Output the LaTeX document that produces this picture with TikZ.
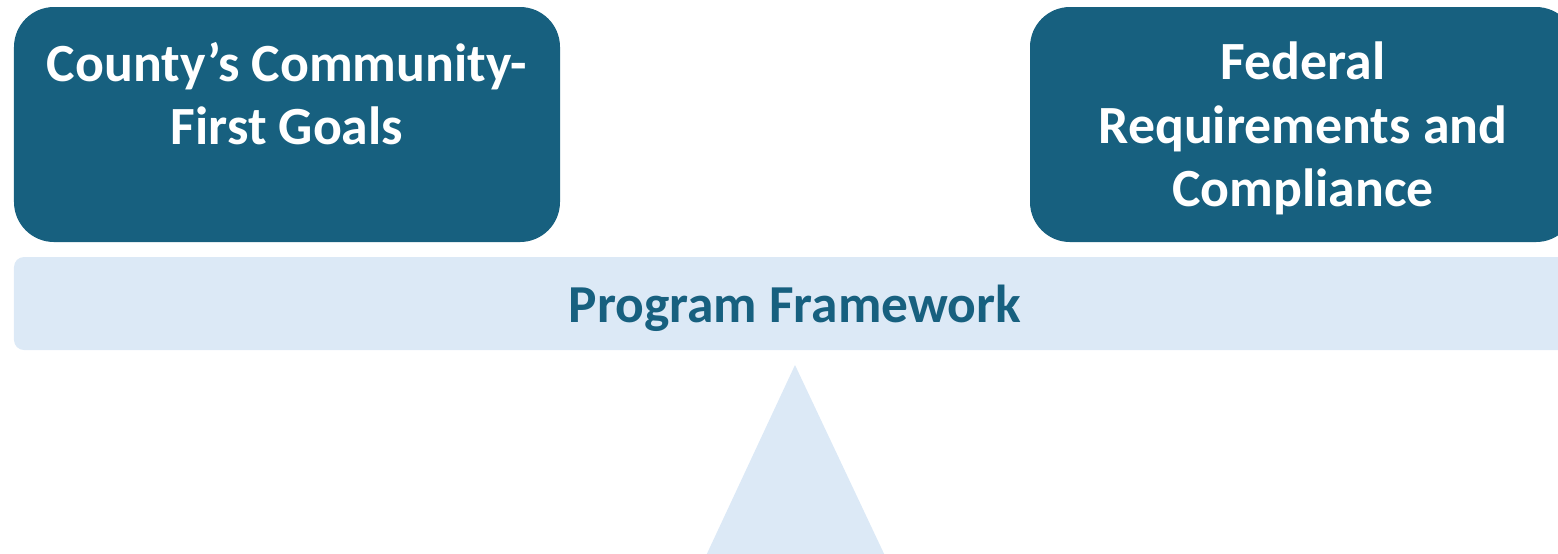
\documentclass[tikz,border=0pt]{standalone}
\usepackage{fontspec}
\setmainfont{Carlito}
\usepackage{xcolor}
\definecolor{goalblue}{HTML}{17607F}
\definecolor{frameblue}{HTML}{DCE9F6}

\begin{document}
\begin{tikzpicture}
    \tikzstyle{goalbox}=[fill=goalblue,rounded corners=0.4cm,minimum width=5.46cm,minimum height=2.35cm,inner sep=0pt]
    \tikzstyle{goaltext}=[text=white,font=\fontsize{15.3}{18}\selectfont\bfseries,align=center,inner sep=0pt,anchor=north]
    \useasboundingbox (0,0) rectangle (15.58,-5.53);
    \node[goalbox] (county) at (2.87,-1.245) {};
    \node[goalbox] (federal) at (13.03,-1.245) {};
    \node[goaltext] (countytext) at ([yshift=-0.35cm]county.north) {County’s Community-\\First Goals};
    \node[goaltext] (federaltext) at ([yshift=-0.35cm]federal.north) {Federal\\Requirements and\\Compliance};
    \fill[frameblue,rounded corners=0.1cm] (0.14,-2.57) rectangle (15.9,-3.50);
    \node[text=goalblue,font=\fontsize{15.2}{18}\selectfont\bfseries] (framework) at (7.95,-3.08) {Program Framework};
    \fill[frameblue] (7.95,-3.65) coordinate (pivot) -- (8.87,-5.6) -- (7.04,-5.6) -- cycle;
\end{tikzpicture}
\end{document}
